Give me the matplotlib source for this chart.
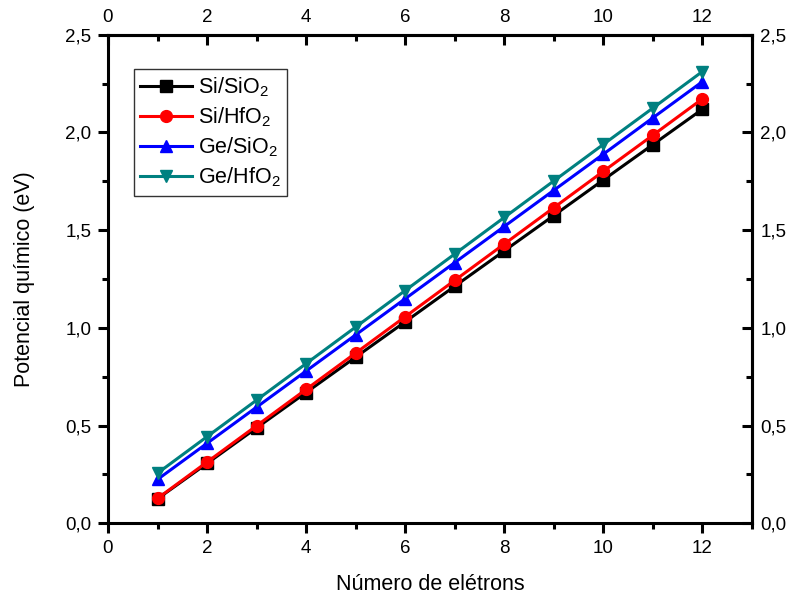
import matplotlib
matplotlib.use("Agg")
import matplotlib.pyplot as plt
from matplotlib.ticker import FixedLocator, FuncFormatter

plt.rcParams['font.family'] = ['Liberation Sans', 'DejaVu Sans']
plt.rcParams['mathtext.fontset'] = 'custom'
plt.rcParams['mathtext.rm'] = 'Liberation Sans'
plt.rcParams['mathtext.it'] = 'Liberation Sans:italic'

electrons = [1, 2, 3, 4, 5, 6, 7, 8, 9, 10, 11, 12]
si_sio2 = [0.125, 0.306, 0.488, 0.669, 0.850, 1.031, 1.213, 1.394, 1.575, 1.757, 1.938, 2.119]
si_hfo2 = [0.127, 0.313, 0.499, 0.685, 0.871, 1.057, 1.243, 1.429, 1.615, 1.801, 1.986, 2.172]
ge_sio2 = [0.224, 0.409, 0.594, 0.779, 0.964, 1.149, 1.334, 1.519, 1.704, 1.889, 2.075, 2.260]
ge_hfo2 = [0.256, 0.443, 0.630, 0.817, 1.004, 1.191, 1.378, 1.565, 1.752, 1.939, 2.125, 2.312]

x_major = [0, 2, 4, 6, 8, 10, 12]
x_minor = [1, 3, 5, 7, 9, 11, 13]
y_major = [0.0, 0.5, 1.0, 1.5, 2.0, 2.5]
y_minor = [0.25, 0.75, 1.25, 1.75, 2.25]

series = [
    ('Si/SiO$_2$', si_sio2, 'black', 's'),
    ('Si/HfO$_2$', si_hfo2, '#ff0000', 'o'),
    ('Ge/SiO$_2$', ge_sio2, '#0000ff', '^'),
    ('Ge/HfO$_2$', ge_hfo2, '#008080', 'v'),
]

fig = plt.figure(figsize=(7.94, 6.0), dpi=100)
ax = fig.add_axes([0.136, 0.128, 0.811, 0.814])

for label, vals, color, marker in series:
    ax.plot(electrons, vals, color=color, marker=marker, lw=2.2, ms=8.5,
            label=label, clip_on=False)

ax.set_xlim(0, 13)
ax.set_ylim(0, 2.5)

comma = FuncFormatter(lambda v, p: f"{v:.1f}".replace('.', ','))
intfmt = FuncFormatter(lambda v, p: f"{int(round(v))}")


def style_x(axis):
    axis.set_major_locator(FixedLocator(x_major))
    axis.set_minor_locator(FixedLocator(x_minor))
    axis.set_major_formatter(intfmt)


def style_y(axis):
    axis.set_major_locator(FixedLocator(y_major))
    axis.set_minor_locator(FixedLocator(y_minor))
    axis.set_major_formatter(comma)


style_x(ax.xaxis)
style_y(ax.yaxis)

for s in ax.spines.values():
    s.set_linewidth(2.2)

ax.tick_params(which='major', direction='out', length=7, width=2.2,
               labelsize=13.5, pad=5)
ax.tick_params(which='minor', direction='out', length=4, width=2.2)

# mirrored axes on top and right with inward ticks
top = ax.secondary_xaxis('top')
style_x(top.xaxis)
top.tick_params(which='major', direction='in', length=7, width=2.2,
                labelsize=13.5, pad=6)
top.tick_params(which='minor', direction='in', length=4, width=2.2)
top.spines['top'].set_linewidth(2.2)

right = ax.secondary_yaxis('right')
style_y(right.yaxis)
right.tick_params(which='major', direction='in', length=7, width=2.2,
                  labelsize=13.5, pad=6)
right.tick_params(which='minor', direction='in', length=4, width=2.2)
right.spines['right'].set_linewidth(2.2)

ax.set_xlabel('Número de elétrons', fontsize=15.5, labelpad=12)
ax.set_ylabel('Potencial químico (eV)', fontsize=15.5, labelpad=22)

leg = ax.legend(loc='upper left', bbox_to_anchor=(0.04, 0.93), fontsize=15.5,
                frameon=True, fancybox=False, edgecolor='black',
                handlelength=2.4, handletextpad=0.3, borderpad=0.3,
                labelspacing=0.3, borderaxespad=0)
leg.get_frame().set_linewidth(1.0)

fig.savefig('out.png', dpi=100)
